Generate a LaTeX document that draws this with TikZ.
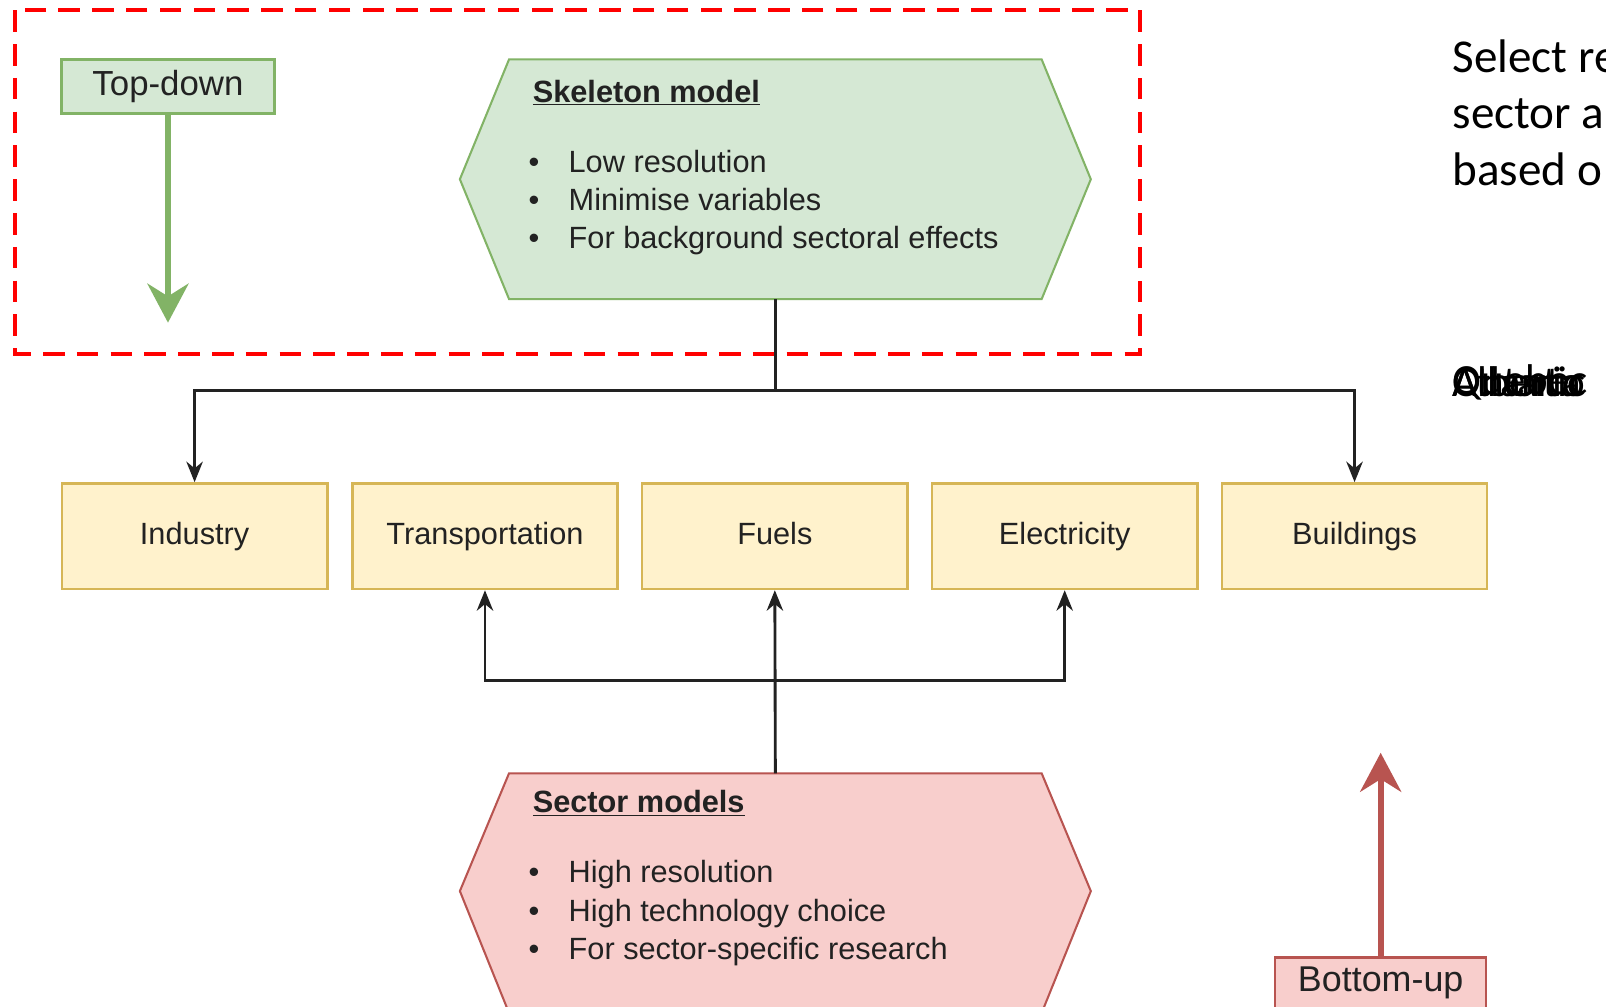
\documentclass[tikz,border=0pt]{standalone}
\usepackage{fontspec}
\setmainfont{Liberation Sans}
\newfontfamily\slidefont{Carlito}
\usetikzlibrary{arrows.meta}

\definecolor{gfill}{HTML}{D5E8D4}
\definecolor{gline}{HTML}{82B366}
\definecolor{yfill}{HTML}{FFF2CC}
\definecolor{yline}{HTML}{D6B656}
\definecolor{rfill}{HTML}{F8CECC}
\definecolor{rline}{HTML}{B85450}
\definecolor{ink}{HTML}{222222}

\begin{document}
\begin{tikzpicture}[x=1pt,y=-1pt,
  sectorbox/.style={draw=yline, fill=yfill, line width=2.5pt, minimum width=259pt,
    minimum height=103pt, inner sep=0pt, text height=22pt, text depth=6pt,
    text=ink, font=\fontsize{30}{36}\selectfont},
  tagbox/.style={line width=2.5pt, inner sep=0pt, text=ink, font=\fontsize{34}{40}\selectfont},
  conn/.style={draw=ink, line width=2.8pt, -{Stealth[length=20pt,width=16pt]}},
  hexline/.style={text=ink, anchor=west, inner sep=0pt, text height=22pt, text depth=6pt,
    font=\fontsize{30}{36}\selectfont},
  hextitle/.style={text=ink, anchor=west, inner sep=0pt, font=\bfseries\fontsize{30}{36}\selectfont},
  bigarrow/.style={line width=6pt, -{Stealth[length=38pt,width=40pt]}}
]
\useasboundingbox (0,0) rectangle (1568,983);
\clip (0,0) rectangle (1568,983);
\fill[white] (0,0) rectangle (1568,983);

% dashed frame around the top-down part
\draw[red, line width=4pt, dash pattern=on 21pt off 12pt] (15,10) rectangle (1113,346);

% top-down tag and arrow
\node[tagbox, draw=gline, fill=gfill, minimum width=208pt, minimum height=53pt] (td) at (164,84.5) {Top-down};
\coordinate (tdend) at (164,315);
\draw[bigarrow, draw=gline, fill=gline] (td.south) -- (tdend);

% skeleton model hexagon
\draw[draw=gline, fill=gfill, line width=2pt]
  (497,58) -- (1017,58) -- (1065,175) -- (1017,292) -- (497,292) -- (449,175) -- cycle;
\coordinate (skB) at (757,292);
\node[hextitle] (skT) at (520,90) {\underline{Skeleton model}};
\node[hexline] (skb1) at (516,160) {\textbullet};
\node[hexline] (skb2) at (516,198) {\textbullet};
\node[hexline] (skb3) at (516,235) {\textbullet};
\node[hexline] (sk1) at (555,160) {Low resolution};
\node[hexline] (sk2) at (555,198) {Minimise variables};
\node[hexline] (sk3) at (555,235) {For background sectoral effects};

% sector boxes
\node[sectorbox] (ind) at (190,523.5) {Industry};
\node[sectorbox] (tra) at (473.5,523.5) {Transportation};
\node[sectorbox] (fue) at (756.5,523.5) {Fuels};
\node[sectorbox] (ele) at (1039.5,523.5) {Electricity};
\node[sectorbox] (bld) at (1322.5,523.5) {Buildings};

% top-down connectors
\coordinate (topj) at (757,381);
\draw[draw=ink, line width=2.8pt] (skB) -- (topj);
\draw[conn] (topj) -| (ind.north);
\draw[conn] (topj) -| (bld.north);

% sector models hexagon
\draw[draw=rline, fill=rfill, line width=2pt]
  (497,755) -- (1017,755) -- (1065,870) -- (1017,989) -- (497,989) -- (449,870) -- cycle;
\coordinate (scT) at (757,755);
\node[hextitle] (scTitle) at (520,784) {\underline{Sector models}};
\node[hexline] (scb1) at (516,854) {\textbullet};
\node[hexline] (scb2) at (516,892) {\textbullet};
\node[hexline] (scb3) at (516,929) {\textbullet};
\node[hexline] (sc1) at (555,854) {High resolution};
\node[hexline] (sc2) at (555,892) {High technology choice};
\node[hexline] (sc3) at (555,929) {For sector-specific research};

% bottom-up connectors
\coordinate (botj) at (757,664);
\draw[conn] (scT) -- (fue.south);
\draw[conn] (botj) -| (tra.south);
\draw[conn] (botj) -| (ele.south);

% bottom-up tag and arrow
\node[tagbox, draw=rline, fill=rfill, minimum width=206pt, minimum height=60pt] (bu) at (1348,965) {};
\node[text=ink, inner sep=0pt, font=\fontsize{35}{40}\selectfont] (butext) at (1348,960) {Bottom-up};
\coordinate (buend) at (1348,735);
\draw[bigarrow, draw=rline, fill=rline] (bu.north) -- (buend);

% slide text on the right
\node[anchor=west, inner sep=0pt, align=left, font=\slidefont\fontsize{46}{55}\selectfont] (note) at (1418,110)
  {Select re\\sector a\\based o};
\foreach \w [count=\i] in {Alberta,Ontario,Quebec,Atlantic}
  \node[anchor=west, inner sep=0pt, font=\slidefont\fontsize{42}{46}\selectfont] (reg\i) at (1418,373) {\w};
\end{tikzpicture}
\end{document}
